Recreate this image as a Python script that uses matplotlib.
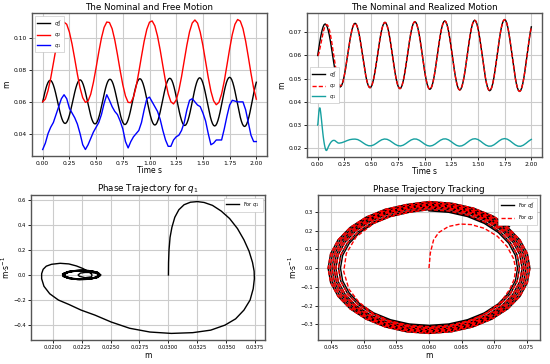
import numpy as np
import matplotlib

matplotlib.use("Agg")
import matplotlib.pyplot as plt

# nominal trajectory q2^d, sampled every 0.01 s (x in m, v in m/s)
q2d_x = [
    .06000, .06303, .06590, .06848, .07063, .07225, .07326, .07360, .07326, .07225, .07063, .06848, .06590, .06303,
    .06000, .05697, .05410, .05152, .04937, .04775, .04674, .04640, .04674, .04775, .04937, .05152, .05410, .05697,
    .06000, .06309, .06603, .06867, .07087, .07252, .07355, .07390, .07355, .07252, .07087, .06867, .06603, .06309,
    .06000, .05691, .05397, .05133, .04913, .04748, .04645, .04610, .04645, .04748, .04913, .05133, .05397, .05691,
    .06000, .06318, .06620, .06892, .07118, .07288, .07394, .07430, .07394, .07288, .07118, .06892, .06620, .06318,
    .06000, .05682, .05380, .05108, .04882, .04712, .04606, .04570, .04606, .04712, .04882, .05108, .05380, .05682,
    .06000, .06325, .06633, .06910, .07141, .07315, .07423, .07460, .07423, .07315, .07141, .06910, .06633, .06325,
    .06000, .05675, .05367, .05090, .04859, .04685, .04577, .04540, .04577, .04685, .04859, .05090, .05367, .05675,
    .06000, .06332, .06647, .06929, .07165, .07342, .07453, .07490, .07453, .07342, .07165, .06929, .06647, .06332,
    .06000, .05668, .05353, .05071, .04835, .04658, .04547, .04510, .04547, .04658, .04835, .05071, .05353, .05668,
    .06000, .06338, .06660, .06948, .07188, .07370, .07482, .07520, .07482, .07370, .07188, .06948, .06660, .06338,
    .06000, .05662, .05340, .05052, .04812, .04630, .04518, .04480, .04518, .04630, .04812, .05052, .05340, .05662,
    .06000, .06345, .06673, .06966, .07212, .07397, .07511, .07550, .07511, .07397, .07212, .06966, .06673, .06345,
    .06000, .05655, .05327, .05034, .04788, .04603, .04489, .04450, .04489, .04603, .04788, .05034, .05327, .05655,
    .06000, .06352, .06686, .06985, .07235]
q2d_v = [
    .3052, .2975, .2750, .2386, .1903, .1324, .0679, 0, -.0679, -.1324, -.1903, -.2386, -.2750, -.2975,
    -.3052, -.2975, -.2750, -.2386, -.1903, -.1324, -.0679, 0, .0679, .1324, .1903, .2386, .2750, .2975,
    .3119, .3041, .2810, .2438, .1945, .1353, .0694, 0, -.0694, -.1353, -.1945, -.2438, -.2810, -.3041,
    -.3119, -.3041, -.2810, -.2438, -.1945, -.1353, -.0694, 0, .0694, .1353, .1945, .2438, .2810, .3041,
    .3209, .3128, .2891, .2509, .2001, .1392, .0714, 0, -.0714, -.1392, -.2001, -.2509, -.2891, -.3128,
    -.3209, -.3128, -.2891, -.2509, -.2001, -.1392, -.0714, 0, .0714, .1392, .2001, .2509, .2891, .3128,
    .3276, .3194, .2952, .2561, .2043, .1421, .0729, 0, -.0729, -.1421, -.2043, -.2561, -.2952, -.3194,
    -.3276, -.3194, -.2952, -.2561, -.2043, -.1421, -.0729, 0, .0729, .1421, .2043, .2561, .2952, .3194,
    .3344, .3260, .3013, .2614, .2085, .1451, .0744, 0, -.0744, -.1451, -.2085, -.2614, -.3013, -.3260,
    -.3344, -.3260, -.3013, -.2614, -.2085, -.1451, -.0744, 0, .0744, .1451, .2085, .2614, .3013, .3260,
    .3411, .3325, .3073, .2667, .2127, .1480, .0759, 0, -.0759, -.1480, -.2127, -.2667, -.3073, -.3325,
    -.3411, -.3325, -.3073, -.2667, -.2127, -.1480, -.0759, 0, .0759, .1480, .2127, .2667, .3073, .3325,
    .3478, .3391, .3134, .2719, .2169, .1509, .0774, 0, -.0774, -.1509, -.2169, -.2719, -.3134, -.3391,
    -.3478, -.3391, -.3134, -.2719, -.2169, -.1509, -.0774, 0, .0774, .1509, .2169, .2719, .3134, .3391,
    .3546, .3457, .3195, .2772, .2211]

# free motion, sampled every 0.025 s
q2_free = [
    .0600, .0618, .0671, .0749, .0843, .0938, .1021, .1078, .1102, .1089, .1040, .0964, .0871, .0774, .0688,
    .0626, .0597, .0605, .0649, .0723, .0815, .0913, .1002, .1069, .1103, .1100, .1061, .0990, .0898, .0799,
    .0708, .0637, .0597, .0595, .0630, .0697, .0788, .0887, .0982, .1057, .1102, .1110, .1079, .1015, .0927,
    .0827, .0730, .0651, .0601, .0587, .0612, .0673, .0759, .0859, .0958, .1042, .1097, .1116, .1096, .1039,
    .0955, .0855, .0754, .0667, .0607, .0582, .0597, .0650, .0731, .0831, .0933, .1024, .1089, .1119, .1109,
    .1062, .0983, .0884, .0780, .0686, .0617]
q1_free = [
    .030, .034, .040, .044, .047, .052, .057, .062, .0645, .062, .056, .053, .050, .046, .040, .033, .030,
    .033, .037, .041, .044, .047, .052, .059, .0645, .061, .057, .054, .052, .048, .043, .035, .031,
    .035, .038, .040, .042, .047, .055, .062, .063, .060, .057, .054, .049, .042, .036, .032,
    .032, .036, .038, .039, .042, .047, .055, .061, .062, .060, .058, .057, .053, .048, .040, .033,
    .034, .036, .036, .036, .043, .051, .058, .061, .0605, .060, .060, .060, .055, .047, .039, .035, .035]

# realized q2: start-up transient, then it sits on q2^d from t = 0.25 s
q2r_t0 = [0, .005, .009, .014, .021, .029, .036, .045, .054, .064, .076, .085, .0925, .100, .110, .120,
          .130, .140, .150, .160, .170, .180, .190, .200, .2125, .225, .2375]
q2r_x0 = [.0600, .0602, .0607, .0615, .0630, .0648, .0665, .0685, .0705, .0720, .0730, .0733, .0731, .0724,
          .0710, .0688, .0662, .0632, .0601, .0569, .0539, .0513, .0492, .0477, .0469, .0473, .0488]
q2r_v0 = [0, .080, .150, .190, .222, .235, .232, .212, .170, .115, .050, 0, -.058, -.113, -.182, -.239,
          -.283, -.310, -.319, -.309, -.282, -.238, -.180, -.112, -.018, .078, .166]

# realized q1: fast transient, then every 0.025 s from t = 0.225 s
q1r_t0 = [0, .0003, .0006, .0009, .0013, .0018, .0025, .0035, .0045, .0055, .0065, .0078, .0092, .0107,
          .0123, .0140, .0158, .0176, .0190, .0200, .0212, .0228, .0248, .0270, .0295, .0325, .0360, .0400,
          .0440, .0480, .0520, .0560, .0600, .0640, .0680, .0720, .0760, .0800, .0830, .0860, .0890, .0930,
          .1000, .1080, .1160, .1240, .1320, .1410, .1490, .1600, .1750, .1900, .2000]
q1r_x = [
    .03000, .03001, .03005, .03014, .03030, .03055, .03090, .03135, .03190, .03250, .03308, .03380, .03455,
    .03528, .03596, .03652, .03696, .03726, .03740, .03742, .03732, .03705, .03652, .03580, .03488, .03365,
    .03210, .03025, .02840, .02665, .02505, .02365, .02245, .02140, .02050, .01975, .01925, .01905, .01905,
    .01918, .01945, .01990, .02065, .02140, .02205, .02260, .02300, .02330, .02340, .02335, .02280, .02230,
    .02220,
    .02240, .02280, .02330, .02370, .02390, .02395, .02374, .02313, .02234, .02158, .02111, .02106, .02145,
    .02217, .02299, .02367, .02399, .02385, .02330, .02250, .02170, .02114, .02099, .02131, .02200, .02284,
    .02358, .02400, .02395, .02346, .02267, .02183, .02118, .02094, .02118, .02182, .02268, .02348, .02399,
    .02404, .02362, .02285, .02198, .02125, .02091, .02105, .02164, .02250, .02336, .02396, .02411, .02377,
    .02304, .02213, .02134, .02090, .02094, .02147, .02232, .02322, .02391, .02417, .02391, .02322, .02231,
    .02145, .02091, .02085, .02131, .02212, .02306, .02383]
q1r_v = [
    0, .10, .20, .30, .38, .46, .52, .56, .58, .585, .578, .555, .51, .45, .37, .28, .19, .10, .03, -.03,
    -.11, -.20, -.28, -.35, -.40, -.44, -.46, -.466, -.455, -.425, -.375, -.32, -.28, -.235, -.20, -.15,
    -.09, -.03, .01, .045, .07, .085, .093, .088, .072, .052, .032, .013, 0, -.015, -.022, -.010, 0,
    .015, .020, .020, .014, .008, 0, -.0174, -.0295, -.0326, -.0258, -.0109, .0074, .0235, .0324, .0316,
    .0208, .0038, -.0146, -.0285, -.0339, -.0287, -.0147, .0038, .0213, .0324, .0335, .0243, .0077, -.0114,
    -.0270, -.0346, -.0313, -.0186, 0, .0186, .0317, .0350, .0276, .0117, -.0079, -.0252, -.0348, -.0337,
    -.0224, -.0040, .0157, .0306, .0361, .0308, .0158, -.0041, -.0228, -.0345, -.0359, -.0260, -.0082,
    .0122, .0290, .0368, .0336, .0198, 0, -.0199, -.0338, -.0375, -.0295, -.0124, .0085, .0268, .0372,
    .0360, .0238]

t_nom = np.linspace(0, 2, len(q2d_x))
t_free = np.linspace(0, 2, len(q2_free))
t_blue = np.linspace(0, 2, len(q1_free))
q2r_t = np.concatenate([q2r_t0, t_nom[25:]])
q2r_x = np.concatenate([q2r_x0, q2d_x[25:]])
q2r_v = np.concatenate([q2r_v0, q2d_v[25:]])
q1r_t = np.concatenate([q1r_t0, np.arange(9, 81) * 0.025])

TEAL = "#16a0a0"
plt.rcParams["font.family"] = ["DejaVu Sans"]
plt.rcParams["mathtext.fontset"] = "dejavusans"

fig = plt.figure(figsize=(5.5, 3.64), dpi=100)
W, H = 550, 364


def axes_px(l, t, r, b):
    return fig.add_axes([l / W, 1 - b / H, (r - l) / W, (b - t) / H])


def style(ax, tick_fs):
    ax.grid(True, color="#cccccc", lw=0.8)
    ax.set_axisbelow(True)
    for s in ax.spines.values():
        s.set_color("#555555")
        s.set_linewidth(1.0)
    ax.tick_params(labelsize=tick_fs, length=2, width=0.6, pad=1.5)


def leg(ax, loc):
    lg = ax.legend(loc=loc, fontsize=3.6, handlelength=2.6, borderpad=0.5, labelspacing=0.5,
                   framealpha=1, fancybox=False)
    lg.get_frame().set_linewidth(0.4)
    lg.get_frame().set_edgecolor("#bbbbbb")


ax1 = axes_px(32, 13, 267, 156)
ax1.plot(t_nom, q2d_x, color="black", lw=1.0, label="$q_2^d$")
ax1.plot(t_free, q2_free, color="red", lw=1.0, label="$q_2$")
ax1.plot(t_blue, q1_free, color="blue", lw=1.0, label="$q_1$")
style(ax1, 4.3)
ax1.set_title("The Nominal and Free Motion", fontsize=6.3, pad=2.5)
ax1.set_xlabel("Time s", fontsize=5.5, labelpad=0)
ax1.set_ylabel("m", fontsize=5.5, labelpad=2)
ax1.set_xticks(np.arange(0, 2.01, 0.25))
leg(ax1, "upper left")

ax2 = axes_px(307, 13, 542, 157)
ax2.plot(t_nom, q2d_x, color="black", lw=1.0, label="$q_2^d$")
ax2.plot(q2r_t, q2r_x, color="red", lw=1.0, ls=(0, (3, 1.5)), label="$q_2$")
ax2.plot(q1r_t, q1r_x, color=TEAL, lw=1.0, label="$q_1$")
style(ax2, 4.3)
ax2.set_title("The Nominal and Realized Motion", fontsize=6.3, pad=2.5)
ax2.set_xlabel("Time s", fontsize=5.5, labelpad=0)
ax2.set_ylabel("m", fontsize=5.5, labelpad=2)
ax2.set_xticks(np.arange(0, 2.01, 0.25))
leg(ax2, "center left")

ax3 = axes_px(31, 195, 265, 340)
ax3.plot(q1r_x, q1r_v, color="black", lw=1.0, label="For $q_1$")
style(ax3, 3.8)
ax3.set_title("Phase Trajectory for $q_1$", fontsize=6.3, pad=2.5)
ax3.set_xlabel("m", fontsize=5.5, labelpad=1)
ax3.set_ylabel("m$\\cdot$s$^{-1}$", fontsize=5.5, labelpad=1)
leg(ax3, "upper right")

ax4 = axes_px(318, 195, 540, 340)
ax4.plot(q2d_x, q2d_v, color="black", lw=1.0, label="For $q_2^d$")
ax4.plot(q2r_x, q2r_v, color="red", lw=1.0, ls=(0, (3, 1.5)), label="For $q_2$")
style(ax4, 3.8)
ax4.set_title("Phase Trajectory Tracking", fontsize=6.3, pad=2.5)
ax4.set_xlabel("m", fontsize=5.5, labelpad=1)
ax4.set_ylabel("m$\\cdot$s$^{-1}$", fontsize=5.5, labelpad=1)
leg(ax4, "upper right")

fig.savefig("out.png", dpi=100)
